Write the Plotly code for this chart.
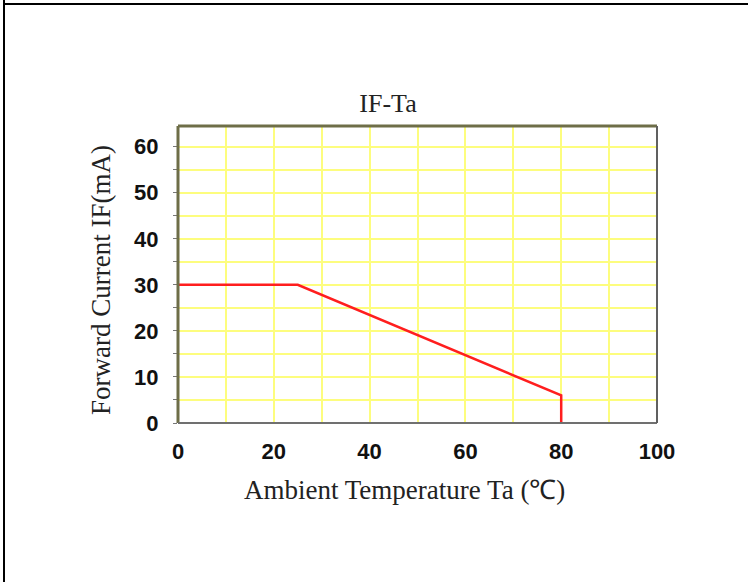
import plotly.graph_objects as go

# Data (derating curve)
temp_c = [0, 25, 80, 80]
current_ma = [30, 30, 6, 0]

x_tick_vals = [0, 20, 40, 60, 80, 100]
y_tick_vals = [0, 10, 20, 30, 40, 50, 60]

title_text = "IF-Ta"
x_title = "Ambient Temperature Ta (℃)"
y_title = "Forward Current IF(mA)"

W, H = 748, 582
L, R, T, B = 178, 657, 126, 423

fig = go.Figure()
fig.add_trace(go.Scatter(
    x=temp_c, y=current_ma, mode="lines",
    line=dict(color="#ff1e1e", width=2.5),
    showlegend=False, hoverinfo="skip"))

grid_col = "#fdfd7e"
tick_font = dict(family="Liberation Sans, Arial, sans-serif", size=22, color="#111111", weight="bold")
serif = "Liberation Serif, Times New Roman, serif"

fig.update_xaxes(
    range=[0, 100], tickvals=x_tick_vals, ticks="", showline=False, zeroline=False,
    showgrid=True, gridcolor=grid_col, gridwidth=1.5,
    minor=dict(dtick=10, showgrid=True, gridcolor=grid_col, gridwidth=1.5),
    tickfont=tick_font, ticklabelstandoff=13,
)
fig.update_yaxes(
    range=[0, 64.5], tickvals=y_tick_vals, ticks="outside", ticklen=4, tickcolor="#777777",
    showline=False, zeroline=False,
    showgrid=True, gridcolor=grid_col, gridwidth=1.5,
    minor=dict(dtick=5, showgrid=True, gridcolor=grid_col, gridwidth=1.5, ticks="outside", ticklen=4, tickcolor="#777777"),
    tickfont=tick_font, ticklabelstandoff=10,
)

def px(xp):
    return (xp - L) / (R - L)

def py(yp):
    return (B - yp) / (B - T)

shapes = [
    # plot frame
    dict(type="line", xref="x domain", yref="y domain", x0=0, x1=1, y0=1, y1=1, line=dict(color="#6e6e48", width=3)),
    dict(type="line", xref="x domain", yref="y domain", x0=0, x1=0, y0=0, y1=1, line=dict(color="#6e6e48", width=3)),
    dict(type="line", xref="x domain", yref="y domain", x0=0, x1=1, y0=0, y1=0, line=dict(color="#707070", width=2)),
    dict(type="line", xref="x domain", yref="y domain", x0=1, x1=1, y0=0, y1=1, line=dict(color="#606060", width=2)),
    # outer page border (top and left)
    dict(type="line", xref="paper", yref="paper", x0=px(3), x1=px(W), y0=py(4), y1=py(4), line=dict(color="black", width=2)),
    dict(type="line", xref="paper", yref="paper", x0=px(4), x1=px(4), y0=py(0), y1=py(H), line=dict(color="black", width=2)),
]

annotations = [
    dict(text=x_title, xref="paper", yref="paper", x=px(404), y=py(490),
         xanchor="center", yanchor="middle", showarrow=False,
         font=dict(family=serif, size=27, color="#222222")),
    dict(text=y_title, xref="paper", yref="paper", x=px(101), y=py(280),
         xanchor="center", yanchor="middle", showarrow=False, textangle=-90,
         font=dict(family=serif, size=27, color="#222222")),
]

fig.update_layout(
    width=W, height=H,
    margin=dict(l=L, r=W - R, t=T, b=H - B),
    paper_bgcolor="white", plot_bgcolor="white",
    title=dict(text=title_text, x=px(388), xref="paper", xanchor="center",
               y=1 - 103 / H, yref="container", yanchor="middle",
               font=dict(family=serif, size=26, color="#222222")),
    shapes=shapes,
    annotations=annotations,
)

fig.write_html("out.html", config={"displayModeBar": False},
               post_script="document.body.style.margin='0px';document.body.style.overflow='hidden';")
